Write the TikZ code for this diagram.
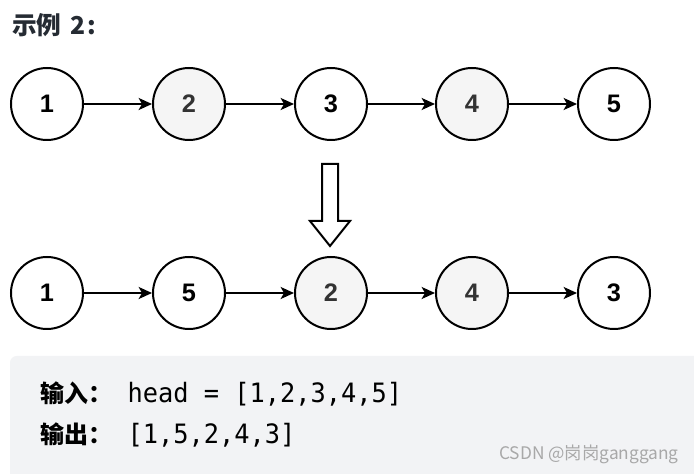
\documentclass[tikz,border=0pt]{standalone}
\usepackage{fontspec}
\setmainfont{Liberation Sans}
\setmonofont[FakeStretch=0.95]{DejaVu Sans Mono}
\newfontfamily\cjkfont{Noto Sans CJK SC}
\usetikzlibrary{arrows.meta,calc}
\definecolor{NodeGray}{HTML}{F5F5F5}
\definecolor{CodeBg}{HTML}{F2F3F5}
\definecolor{TextGray}{HTML}{333333}
\definecolor{TitleClr}{HTML}{252B33}
\definecolor{MarkGray}{HTML}{A8A8A8}

\tikzset{
  listnode/.style={circle,draw=black,line width=1.5pt,minimum size=54pt,inner sep=0pt,
    fill=white,font=\fontsize{19}{19}\selectfont\bfseries},
  graynode/.style={listnode,fill=NodeGray,text=TextGray},
  link/.style={line width=1.5pt,-{Stealth[length=10pt,width=9pt,inset=2.5pt]}},
  codeline/.style={anchor=base west,inner sep=0pt,font=\fontsize{20}{20}\selectfont}
}

\begin{document}
\begin{tikzpicture}[x=0.75pt,y=-0.75pt]
\useasboundingbox (0,0) rectangle (694,474);

% code box
\fill[CodeBg,rounded corners=5pt] (10,356) rectangle (720,500);

\node[anchor=west,inner sep=0pt,text=TitleClr,font=\cjkfont\fontsize{18.5}{18.5}\selectfont\bfseries]
  (title) at (12,25) {示例\hspace{7pt}2\hspace{1pt}:};

% top row
\node[listnode] (a1) at (47,104) {1};
\node[graynode] (a2) at (189,104) {2};
\node[listnode] (a3) at (331,104) {3};
\node[graynode] (a4) at (472,104) {4};
\node[listnode] (a5) at (614,104) {5};

\draw[link] (a1) -- (a2);
\draw[link] (a2) -- (a3);
\draw[link] (a3) -- (a4);
\draw[link] (a4) -- (a5);

% hollow arrow
\draw[line width=1.5pt,fill=white,line join=miter]
  (322,164) -- (338,164) -- (338,221) -- (350,221) -- (330,246)
  -- (310,221) -- (322,221) -- cycle;

% bottom row
\node[listnode] (b1) at (47,293) {1};
\node[listnode] (b2) at (189,293) {5};
\node[graynode] (b3) at (331,293) {2};
\node[graynode] (b4) at (472,293) {4};
\node[listnode] (b5) at (614,293) {3};

\draw[link] (b1) -- (b2);
\draw[link] (b2) -- (b3);
\draw[link] (b3) -- (b4);
\draw[link] (b4) -- (b5);

\node[codeline] (input) at (40,403) {{\cjkfont\fontsize{18}{18}\selectfont\bfseries 输入：}\ttfamily\ head = [1,2,3,4,5]};
\node[codeline] (output) at (40,444) {{\cjkfont\fontsize{18}{18}\selectfont\bfseries 输出：}\ttfamily\ [1,5,2,4,3]};

\node[anchor=east,inner sep=0pt,text=MarkGray,font=\cjkfont\fontsize{13}{13}\selectfont]
  (mark) at (679,454) {CSDN @岗岗ganggang};

\end{tikzpicture}
\end{document}
